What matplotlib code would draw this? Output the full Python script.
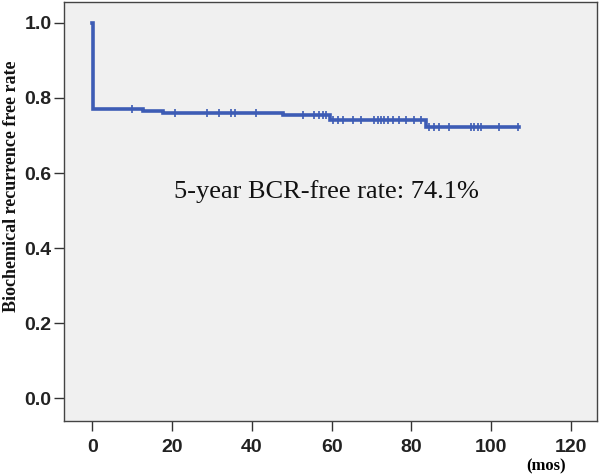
import matplotlib
matplotlib.use("Agg")
import matplotlib.pyplot as plt
import numpy as np

# Kaplan-Meier steps
step_times = [0, 0.2, 12.8, 17.8, 47.7, 59.5, 83.7, 107]
step_surv = [1.0, 0.771, 0.765, 0.760, 0.755, 0.742, 0.723, 0.723]

# censored observations (months)
censor_times = [9.9, 20.7, 28.7, 31.8, 34.7, 35.7, 41.0, 52.8, 55.7, 56.8,
                57.8, 58.7, 60.3, 61.6, 62.8, 65.3, 67.4, 70.7, 71.6, 72.4,
                73.2, 74.1, 75.3, 77.0, 78.7, 80.7, 82.4, 84.5, 85.7, 87.0,
                89.5, 94.9, 95.7, 96.6, 97.4, 102.0, 106.6]

x_ticks = [0, 20, 40, 60, 80, 100, 120]
y_ticks = [0.0, 0.2, 0.4, 0.6, 0.8, 1.0]

line_col = "#3d5cb5"

fig = plt.figure(figsize=(6.0, 4.76), dpi=100)
ax = fig.add_axes([0.107, 0.116, 0.888, 0.880])
ax.set_facecolor("#f0f0f0")

ax.step(step_times, step_surv, where="post", color=line_col, lw=2.6,
        solid_joinstyle="miter")

# censor ticks sit on the curve
def surv_at(t):
    idx = np.searchsorted(step_times, t, side="right") - 1
    return step_surv[idx]

cy = [surv_at(t) for t in censor_times]
ax.plot(censor_times, cy, ls="none", marker="|", ms=6, mew=1.2, color=line_col)

ax.set_xlim(-7, 126.5)
ax.set_ylim(-0.06, 1.056)
ax.set_xticks(x_ticks)
ax.set_yticks(y_ticks)
ax.set_xticklabels([str(v) for v in x_ticks])
ax.set_yticklabels(["%.1f" % v for v in y_ticks])

for lab in ax.get_xticklabels() + ax.get_yticklabels():
    lab.set_fontfamily("Liberation Sans")
    lab.set_fontweight("bold")
    lab.set_fontsize(14)
    lab.set_color("#222222")

ax.tick_params(direction="out", length=7, width=1, color="#333333", pad=2)
ax.tick_params(axis="x", pad=6)
for sp in ax.spines.values():
    sp.set_color("#444444")
    sp.set_linewidth(1.0)

# y label sits a bit above the axes centre in the original
fig.text(12 / 600, 1 - 186 / 476, "Biochemical recurrence free rate",
         family="Liberation Serif", fontweight="bold", fontsize=13,
         rotation=90, ha="center", va="center", color="#111111")

fig.text(326 / 600, 1 - 198 / 476, "5-year BCR-free rate: 74.1%",
         family="Liberation Serif", fontsize=19, ha="center", va="baseline",
         color="#111111")

fig.text(546 / 600, 1 - 466 / 476, "(mos)", family="Liberation Serif",
         fontweight="bold", fontsize=12, ha="center", va="center")

fig.savefig("out.png", dpi=100)
